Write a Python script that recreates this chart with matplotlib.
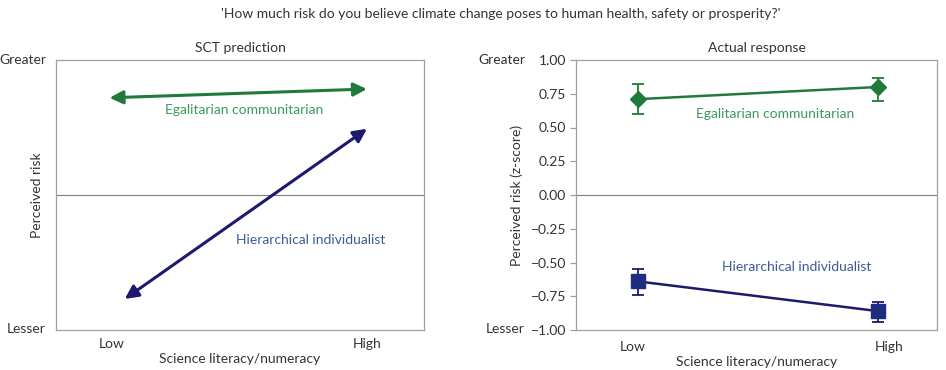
import matplotlib.pyplot as plt

plt.rcParams['font.family'] = ['Lato', 'DejaVu Sans']
plt.rcParams['font.size'] = 10

title = "'How much risk do you believe climate change poses to human health, safety or prosperity?'"
x_labels = ['Low', 'High']

# SCT prediction arrows (tail, head)
egal_arrow_x = [-0.01, 1.0]
egal_arrow_y = [0.72, 0.785]
hier_arrow_x = [0.05, 1.0]
hier_arrow_y = [-0.77, 0.49]

# Actual response
resp_x = [0, 1]
egal_mean = [0.71, 0.80]
egal_lo = [0.60, 0.70]
egal_hi = [0.82, 0.87]
hier_mean = [-0.64, -0.86]
hier_lo = [-0.74, -0.94]
hier_hi = [-0.55, -0.79]
z_ticks = [1.0, 0.75, 0.5, 0.25, 0.0, -0.25, -0.5, -0.75, -1.0]

green = '#1f7a3c'
green_text = '#3a9a5c'
navy = '#1c1a6c'
navy_marker = '#1f2d80'
blue_text = '#3c5c98'
spine_col = '#a0a0a0'
txt = '#333333'

W, H = 946, 370
fig = plt.figure(figsize=(W / 100, H / 100), dpi=100)

def px_axes(x0, x1, y0, y1):
    return fig.add_axes([x0 / W, (H - y1) / H, (x1 - x0) / W, (y1 - y0) / H])

fig.text(501 / W, 1 - 14 / H, title, ha='center', va='center', color=txt, fontsize=10)

# ---- left panel: SCT prediction
ax1 = px_axes(56, 424, 60, 330)
ax1.set_xlim(-0.22, 1.224)
ax1.set_ylim(-1, 1)
ax1.axhline(0, color='#808080', lw=0.8)
ax1.annotate('', xy=(egal_arrow_x[1], egal_arrow_y[1]), xytext=(egal_arrow_x[0], egal_arrow_y[0]),
             arrowprops=dict(arrowstyle='<|-|>', color=green, lw=2.2, mutation_scale=20,
                             shrinkA=0, shrinkB=0))
ax1.annotate('', xy=(hier_arrow_x[1], hier_arrow_y[1]), xytext=(hier_arrow_x[0], hier_arrow_y[0]),
             arrowprops=dict(arrowstyle='<|-|>', color=navy, lw=2.2, mutation_scale=20,
                             shrinkA=0, shrinkB=0))
ax1.text(0.52, 0.63, 'Egalitarian communitarian', color=green_text, ha='center', va='center')
ax1.text(0.78, -0.33, 'Hierarchical individualist', color=blue_text, ha='center', va='center')
ax1.set_xticks([0, 1])
ax1.set_xticklabels(x_labels)
ax1.set_yticks([])
ax1.tick_params(length=0, pad=6, colors=txt, labelsize=10)
ax1.set_title('SCT prediction', color=txt, fontsize=10, pad=6)
ax1.set_xlabel('Science literacy/numeracy', color=txt, labelpad=2)
ax1.set_ylabel('Perceived risk', color=txt)
ax1.yaxis.set_label_coords(-0.036, 0.5)
for s in ax1.spines.values():
    s.set_color(spine_col)
    s.set_linewidth(0.9)
fig.text(46 / W, 1 - 60 / H, 'Greater', ha='right', va='center', color=txt, fontsize=10)
fig.text(46 / W, 1 - 329 / H, 'Lesser', ha='right', va='center', color=txt, fontsize=10)

# ---- right panel: actual response
ax2 = px_axes(576, 937, 60, 330)
ax2.set_xlim(-0.258, 1.246)
ax2.set_ylim(-1, 1)
ax2.axhline(0, color='#808080', lw=0.8)
ax2.errorbar(resp_x, egal_mean,
             yerr=[[m - l for m, l in zip(egal_mean, egal_lo)], [h - m for m, h in zip(egal_mean, egal_hi)]],
             color=green, lw=1.8, marker='D', markersize=8, capsize=4, elinewidth=1.3, capthick=1.3)
ax2.errorbar(resp_x, hier_mean,
             yerr=[[m - l for m, l in zip(hier_mean, hier_lo)], [h - m for m, h in zip(hier_mean, hier_hi)]],
             color=navy, lw=1.8, marker='s', markersize=10, markerfacecolor=navy_marker,
             markeredgecolor=navy_marker, capsize=4, elinewidth=1.3, capthick=1.3, ecolor=navy)
ax2.text(0.57, 0.60, 'Egalitarian communitarian', color=green_text, ha='center', va='center')
ax2.text(0.66, -0.53, 'Hierarchical individualist', color=blue_text, ha='center', va='center')
ax2.set_xticks([-0.02, 1.045])
ax2.set_xticklabels(x_labels)
ax2.set_yticks(z_ticks)
ax2.set_yticklabels(['%.2f' % v if v >= 0 else '\u2212%.2f' % -v for v in z_ticks])
ax2.tick_params(axis='x', length=0, pad=8, colors=txt, labelsize=10)
ax2.tick_params(axis='y', length=4, width=0.9, color=spine_col, pad=3, labelcolor=txt, labelsize=10)
ax2.set_title('Actual response', color=txt, fontsize=10, pad=6)
ax2.set_xlabel('Science literacy/numeracy', color=txt, labelpad=2)
ax2.set_ylabel('Perceived risk (z-score)', color=txt)
ax2.yaxis.set_label_coords(-0.146, 0.5)
for s in ax2.spines.values():
    s.set_color(spine_col)
    s.set_linewidth(0.9)
fig.text(525 / W, 1 - 60 / H, 'Greater', ha='right', va='center', color=txt, fontsize=10)
fig.text(525 / W, 1 - 329 / H, 'Lesser', ha='right', va='center', color=txt, fontsize=10)

fig.savefig('out.png', dpi=100)
